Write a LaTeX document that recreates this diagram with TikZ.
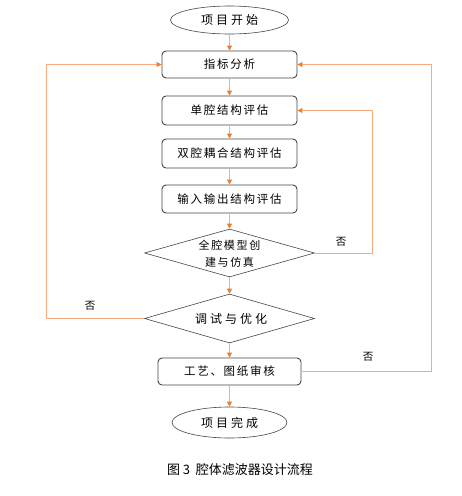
\documentclass[tikz,border=0pt]{standalone}
\usepackage{fontspec}
\setmainfont{Liberation Serif}
\newfontfamily\cjk{Noto Sans CJK SC}
\usetikzlibrary{shapes.geometric,arrows.meta}
\definecolor{ln}{RGB}{248,172,122}
\definecolor{tipc}{RGB}{237,125,49}
\definecolor{bd}{RGB}{70,70,70}
\begin{document}
\begin{tikzpicture}[x=1pt,y=-1pt,
 box/.style={draw=bd, line width=0.9pt, rounded corners=4pt, minimum width=135pt, minimum height=27pt, inner sep=0pt,
   font=\cjk\fontsize{11.5}{13}\selectfont\addfontfeature{LetterSpace=15}},
 term/.style={ellipse, draw=bd, line width=0.6pt, inner sep=0pt,
   font=\cjk\fontsize{12}{14}\selectfont\addfontfeature{LetterSpace=25}},
 dia/.style={diamond, draw=bd, line width=0.6pt, minimum width=170pt, minimum height=48pt, inner sep=0pt},
 diatext/.style={align=center, inner sep=0pt, font=\cjk\fontsize{11}{17}\selectfont\addfontfeature{LetterSpace=15}},
 flow/.style={draw=ln, line width=1pt, -{Triangle[length=5pt,width=5pt,color=tipc]}},
 lab/.style={inner sep=0pt, font=\cjk\fontsize{10.5}{12}\selectfont}]
\useasboundingbox (0,0) rectangle (462,496);
\fill[white] (0,0) rectangle (462,496);

\node[term, minimum width=118pt, minimum height=28pt] (start) at (229.5,20) {项目开始};
\node[box] (zb) at (229.5,64.5) {指标分析};
\node[box, minimum height=29pt] (dq) at (229.5,110.5) {单腔结构评估};
\node[box, minimum height=29pt] (sq) at (229.5,153.5) {双腔耦合结构评估};
\node[box, minimum height=28pt] (io) at (229.5,199) {输入输出结构评估};
\node[dia] (qq) at (229.5,253) {};
\node[diatext] (qqt) at (229.5,254) {全腔模型创\\建与仿真};
\node[dia, minimum height=49pt] (ts) at (229.5,318.5) {};
\node[diatext, font=\cjk\fontsize{12}{14}\selectfont\addfontfeature{LetterSpace=25}] (tst) at (231,318.5) {调试与优化};
\node[box, minimum width=143pt] (gy) at (229.5,371.5) {工艺、图纸审核};
\node[term, minimum width=115pt, minimum height=31pt] (end) at (229.5,422.5) {项目完成};

\node[inner sep=0pt, font=\cjk\fontsize{13}{15}\selectfont] (cap) at (240,470) {图 3\ \ 腔体滤波器设计流程};

\draw[flow] (start) -- (zb);
\draw[flow] (zb) -- (dq);
\draw[flow] (dq) -- (sq);
\draw[flow] (sq) -- (io);
\draw[flow] (io) -- (qq);
\draw[flow] (qq) -- (ts);
\draw[flow] (ts) -- (gy);
\draw[flow] (gy) -- (end);

\coordinate (L) at (46,318.5);
\coordinate (R1) at (372,253);
\coordinate (R2) at (431,371.5);
\draw[flow] (ts.west) -- (L) |- (zb.west);
\draw[flow] (qq.east) -- (R1) |- (dq.east);
\draw[flow] (gy.east) -- (R2) |- (zb.east);

\node[lab] (n1) at (90,306) {否};
\node[lab] (n2) at (341,242) {否};
\node[lab] (n3) at (368,357) {否};
\end{tikzpicture}
\end{document}
